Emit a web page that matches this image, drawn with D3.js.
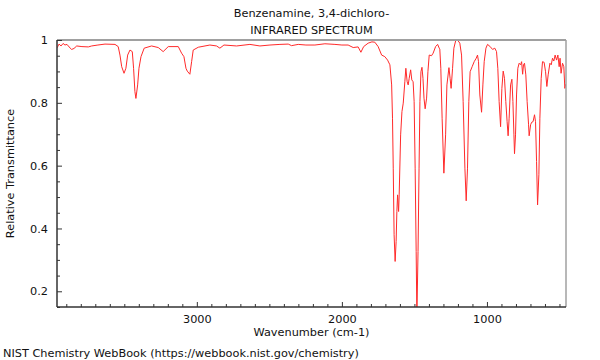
<!DOCTYPE html>
<html><head><meta charset="utf-8">
<script src="https://cdn.jsdelivr.net/npm/d3@7"></script>
<style>body{margin:0;background:#fff}svg{display:block}text{font-family:"DejaVu Sans",sans-serif}</style>
</head><body>
<svg id="c" width="600" height="360"></svg>
<script>
const titleLines = ["Benzenamine, 3,4-dichloro-", "INFRARED SPECTRUM"];
const xLabel = "Wavenumber (cm-1)";
const yLabel = "Relative Transmittance";
const credit = "NIST Chemistry WebBook (https://webbook.nist.gov/chemistry)";
const xMajorTicks = [3000, 2000, 1000];
const yMajorTicks = [0.2, 0.4, 0.6, 0.8, 1];
const wavenumber = [3964,3959,3950,3936,3922,3909,3895,3881,3863,3847,3828,3792,3748,3725,3682,3633,3564,3542,3530,3518,3502,3489,3477,3461,3445,3436,3427,3420,3408,3399,3385,3363,3312,3266,3232,3197,3128,3105,3089,3075,3066,3048,3036,3025,2990,2910,2864,2841,2813,2726,2634,2565,2496,2427,2370,2347,2301,2248,2186,2117,2048,2000,1957,1922,1888,1869,1850,1819,1793,1773,1750,1726,1704,1685,1669,1657,1651,1646,1640,1633,1626,1621,1616,1609,1605,1595,1586,1577,1566,1559,1550,1543,1536,1526,1518,1509,1502,1495,1488,1483,1475,1468,1462,1455,1448,1441,1434,1426,1416,1407,1398,1382,1371,1354,1340,1329,1325,1318,1309,1297,1285,1276,1262,1254,1247,1237,1228,1216,1203,1187,1175,1164,1152,1143,1134,1125,1116,1102,1088,1074,1065,1058,1049,1037,1028,1019,1007,996,980,961,946,934,925,916,906,897,888,879,870,861,854,847,837,828,821,814,810,803,796,787,778,768,761,754,748,741,732,723,713,709,699,692,682,672,665,658,651,642,635,626,617,606,596,587,578,566,557,548,539,530,520,511,502,496,489,479,470,463,456];
const transmittance = [0.975,0.979,0.987,0.981,0.989,0.984,0.986,0.978,0.970,0.973,0.981,0.979,0.978,0.981,0.984,0.987,0.986,0.979,0.952,0.915,0.894,0.910,0.952,0.968,0.963,0.910,0.836,0.814,0.857,0.910,0.947,0.974,0.981,0.976,0.963,0.979,0.979,0.958,0.947,0.910,0.901,0.891,0.931,0.968,0.977,0.984,0.981,0.974,0.984,0.981,0.986,0.981,0.984,0.986,0.987,0.982,0.986,0.984,0.984,0.988,0.986,0.984,0.984,0.976,0.978,0.961,0.979,0.990,0.994,0.993,0.979,0.952,0.947,0.936,0.921,0.857,0.751,0.592,0.380,0.295,0.359,0.454,0.507,0.454,0.507,0.698,0.772,0.799,0.867,0.910,0.867,0.857,0.878,0.905,0.873,0.867,0.804,0.592,0.327,0.12,0.327,0.592,0.804,0.899,0.913,0.878,0.815,0.781,0.815,0.899,0.952,0.950,0.958,0.979,0.986,0.974,0.971,0.910,0.751,0.576,0.698,0.857,0.912,0.878,0.846,0.910,0.974,0.997,1.0,0.990,0.952,0.804,0.592,0.488,0.592,0.804,0.899,0.915,0.931,0.942,0.952,0.931,0.825,0.770,0.857,0.931,0.974,0.986,0.980,0.970,0.974,0.963,0.910,0.804,0.724,0.846,0.901,0.878,0.804,0.740,0.695,0.751,0.857,0.875,0.804,0.698,0.638,0.698,0.825,0.910,0.926,0.921,0.931,0.891,0.921,0.926,0.889,0.804,0.730,0.695,0.730,0.738,0.740,0.762,0.740,0.613,0.475,0.571,0.751,0.878,0.931,0.929,0.899,0.852,0.889,0.926,0.921,0.942,0.933,0.952,0.936,0.952,0.915,0.942,0.894,0.926,0.915,0.846,0.860];

const svg = d3.select("#c");
const m = {l:57, r:566, t:40, b:307};
const x = d3.scaleLinear().domain([3964, 455]).range([m.l, m.r]);
const y = d3.scaleLinear().domain([0.15, 1.0]).range([m.b, m.t]);
const fs = 11.3;

svg.append("defs").append("clipPath").attr("id","clip").append("rect")
  .attr("x", m.l).attr("y", m.t).attr("width", m.r-m.l).attr("height", m.b-m.t);

const pts = wavenumber.map((w,i)=>[w, transmittance[i]]);
svg.append("path").datum(pts).attr("clip-path","url(#clip)")
  .attr("fill","none").attr("stroke","#ff2a2a").attr("stroke-width",1)
  .attr("d", d3.line().x(d=>x(d[0])).y(d=>y(d[1])));

// frame: top & right grey
svg.append("line").attr("x1",m.l).attr("x2",m.r).attr("y1",m.t).attr("y2",m.t).attr("stroke","#a0a0a0").attr("stroke-width",2);
svg.append("line").attr("x1",m.r).attr("x2",m.r).attr("y1",m.t).attr("y2",m.b).attr("stroke","#a0a0a0").attr("stroke-width",1.5);

// x axis (ticks inward)
const xMinor = d3.range(500, 3964, 100).filter(v=>!xMajorTicks.includes(v));
const xAxisMinor = d3.axisBottom(x).tickValues(xMinor).tickSize(-3).tickFormat("");
const xAxis = d3.axisBottom(x).tickValues(xMajorTicks).tickSize(-5).tickPadding(8).tickFormat(d3.format("d"));
const gxm = svg.append("g").attr("transform",`translate(0,${m.b})`).call(xAxisMinor);
const gx = svg.append("g").attr("transform",`translate(0,${m.b})`).call(xAxis);
[gx,gxm].forEach(g=>{g.select(".domain").remove(); g.selectAll("line").attr("stroke","#333");});
gx.selectAll("text").attr("font-size",fs).attr("fill","#111").attr("font-family","DejaVu Sans");

// y axis
const yMinor = d3.range(0.15, 1.0, 0.05).map(v=>+v.toFixed(2)).filter(v=>!yMajorTicks.some(t=>Math.abs(t-v)<1e-6));
const yAxisMinor = d3.axisLeft(y).tickValues(yMinor).tickSize(-3).tickFormat("");
const yAxis = d3.axisLeft(y).tickValues(yMajorTicks).tickSize(-5).tickPadding(9).tickFormat(d=>d===1?"1":d3.format(".1f")(d));
const gym = svg.append("g").attr("transform",`translate(${m.l},0)`).call(yAxisMinor);
const gy = svg.append("g").attr("transform",`translate(${m.l},0)`).call(yAxis);
[gy,gym].forEach(g=>{g.select(".domain").remove(); g.selectAll("line").attr("stroke","#333");});
gy.selectAll("text").attr("font-size",fs).attr("fill","#111").attr("font-family","DejaVu Sans");

svg.append("line").attr("x1",m.l).attr("x2",m.r).attr("y1",m.b).attr("y2",m.b).attr("stroke","#333").attr("stroke-width",1.5);
svg.append("line").attr("x1",m.l).attr("x2",m.l).attr("y1",m.t).attr("y2",m.b).attr("stroke","#333").attr("stroke-width",1.5);

// titles
svg.append("text").attr("x",(m.l+m.r)/2).attr("y",17).attr("text-anchor","middle").attr("font-size",fs).attr("fill","#111").text(titleLines[0]);
svg.append("text").attr("x",(m.l+m.r)/2).attr("y",34).attr("text-anchor","middle").attr("font-size",fs).attr("fill","#111").text(titleLines[1]);
svg.append("text").attr("x",(m.l+m.r)/2).attr("y",336).attr("text-anchor","middle").attr("font-size",fs).attr("fill","#111").text(xLabel);
svg.append("text").attr("transform",`translate(14,${(m.t+m.b)/2}) rotate(-90)`).attr("text-anchor","middle").attr("font-size",fs).attr("fill","#111").text(yLabel);
svg.append("text").attr("x",3).attr("y",357).attr("font-size",fs).attr("fill","#111").text(credit);
</script>
</body></html>
